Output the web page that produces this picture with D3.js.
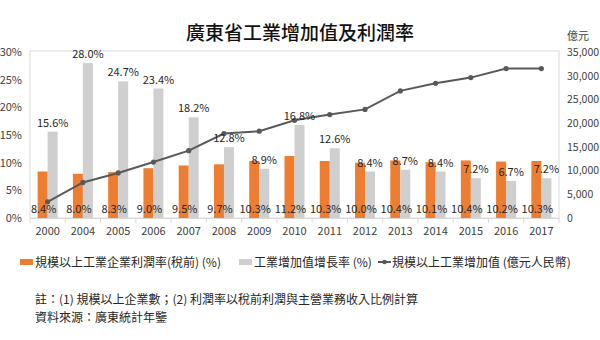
<!DOCTYPE html>
<html>
<head>
<meta charset="utf-8">
<script src="https://cdn.jsdelivr.net/npm/d3@7"></script>
<style>
  html, body { margin: 0; padding: 0; background: #fff; }
  svg { display: block; font-family: "Noto Sans CJK TC", "Noto Sans", sans-serif; }
</style>
</head>
<body>
<svg id="chart" width="600" height="340"></svg>
<script>
// Years on the category axis
const years = ["2000","2004","2005","2006","2007","2008","2009","2010","2011","2012","2013","2014","2015","2016","2017"];
// Pre-tax profit rate of industrial enterprises above designated size (%)
const profitRate = [8.4, 8.0, 8.3, 9.0, 9.5, 9.7, 10.3, 11.2, 10.3, 10.0, 10.4, 10.1, 10.4, 10.2, 10.3];
// Growth rate of industrial value added (%)
const growthRate = [15.6, 28.0, 24.7, 23.4, 18.2, 12.8, 8.9, 16.8, 12.6, 8.4, 8.7, 8.4, 7.2, 6.7, 7.2];
// Industrial value added above designated size (100 million RMB)
const valueAdded = [3400, 7500, 9500, 11800, 14200, 17800, 18300, 20600, 21800, 22900, 26800, 28400, 29600, 31500, 31500];
// Axis ticks
const leftTicks = [0, 5, 10, 15, 20, 25, 30];
const rightTicks = [0, 5000, 10000, 15000, 20000, 25000, 30000, 35000];

const svg = d3.select("#chart");
const plot = { left: 30, right: 559, top: 52, bottom: 218 };
const numFont = "'Noto Sans CJK TC', 'Noto Sans', sans-serif";

const x = d3.scaleBand().domain(years).range([plot.left, plot.right]);
const yL = d3.scaleLinear().domain([0, 30]).range([plot.bottom, plot.top]);
const yR = d3.scaleLinear().domain([0, 35000]).range([plot.bottom, plot.top]);
const barW = 10;

// Title
svg.append("text")
  .attr("x", 300).attr("y", 40)
  .attr("text-anchor", "middle")
  .attr("font-size", 19).attr("font-weight", 500).attr("fill", "#111")
  .text("廣東省工業增加值及利潤率");

// Plot area frame
svg.append("rect")
  .attr("x", plot.left).attr("y", plot.top - 1)
  .attr("width", plot.right - plot.left).attr("height", plot.bottom - plot.top + 1)
  .attr("fill", "none").attr("stroke", "#d9d9d9").attr("stroke-width", 1);

// Left axis (%)
const axL = svg.append("g")
  .attr("transform", `translate(${plot.left},0)`)
  .call(d3.axisLeft(yL).tickValues(leftTicks).tickFormat(d => d + "%").tickSize(0).tickPadding(8));
axL.select(".domain").remove();
axL.selectAll("text").attr("font-size", 11).attr("fill", "#404040").attr("font-family", numFont);

// Right axis (億元)
const axR = svg.append("g")
  .attr("transform", `translate(${plot.right},0)`)
  .call(d3.axisRight(yR).tickValues(rightTicks).tickFormat(d3.format(",")).tickSize(0).tickPadding(8));
axR.select(".domain").remove();
axR.selectAll("text").attr("font-size", 10.5).attr("fill", "#404040").attr("font-family", numFont);

svg.append("text")
  .attr("x", 578).attr("y", 40)
  .attr("text-anchor", "middle")
  .attr("font-size", 11).attr("fill", "#404040")
  .text("億元");

// Bottom axis
const axB = svg.append("g")
  .attr("transform", `translate(0,${plot.bottom})`)
  .call(d3.axisBottom(x).tickSize(0).tickPadding(9));
axB.select(".domain").attr("stroke", "#d9d9d9");
axB.selectAll("text").attr("font-size", 11).attr("fill", "#404040").attr("font-family", numFont);
// Tick marks at category boundaries
axB.selectAll("line.sep")
  .data(d3.range(years.length + 1))
  .join("line")
  .attr("class", "sep")
  .attr("x1", i => plot.left + i * x.step()).attr("x2", i => plot.left + i * x.step())
  .attr("y1", 0).attr("y2", 5)
  .attr("stroke", "#d9d9d9");

// Profit rate bars
svg.append("g").selectAll("rect")
  .data(profitRate)
  .join("rect")
  .attr("x", (d, i) => x(years[i]) + x.bandwidth() / 2 - barW)
  .attr("y", d => yL(d))
  .attr("width", barW)
  .attr("height", d => plot.bottom - yL(d))
  .attr("fill", "#ed7d31");

// Growth rate bars
svg.append("g").selectAll("rect")
  .data(growthRate)
  .join("rect")
  .attr("x", (d, i) => x(years[i]) + x.bandwidth() / 2)
  .attr("y", d => yL(d))
  .attr("width", barW)
  .attr("height", d => plot.bottom - yL(d))
  .attr("fill", "#cfcfcf");

// Value added line
const line = d3.line()
  .x((d, i) => x(years[i]) + x.bandwidth() / 2)
  .y(d => yR(d));
svg.append("path")
  .datum(valueAdded)
  .attr("d", line)
  .attr("fill", "none").attr("stroke", "#595959").attr("stroke-width", 2);
svg.append("g").selectAll("circle")
  .data(valueAdded)
  .join("circle")
  .attr("cx", (d, i) => x(years[i]) + x.bandwidth() / 2)
  .attr("cy", d => yR(d))
  .attr("r", 2.6)
  .attr("fill", "#595959");

// Growth rate labels above bars
svg.append("g").selectAll("text")
  .data(growthRate)
  .join("text")
  .attr("x", (d, i) => x(years[i]) + x.bandwidth() / 2 + barW / 2)
  .attr("y", d => yL(d) - 5)
  .attr("text-anchor", "middle")
  .attr("font-size", 11).attr("fill", "#262626").attr("font-family", numFont)
  .text(d => d.toFixed(1) + "%");

// Profit rate labels at bar base
svg.append("g").selectAll("text")
  .data(profitRate)
  .join("text")
  .attr("x", (d, i) => x(years[i]) + x.bandwidth() / 2 - barW / 2 + 1)
  .attr("y", plot.bottom - 5)
  .attr("text-anchor", "middle")
  .attr("font-size", 11).attr("fill", "#262626").attr("font-family", numFont)
  .text(d => d.toFixed(1) + "%");

// Legend
const lg = svg.append("g").attr("font-size", 12).attr("fill", "#262626");
lg.append("rect").attr("x", 20).attr("y", 259).attr("width", 13).attr("height", 6).attr("fill", "#ed7d31");
lg.append("text").attr("x", 35).attr("y", 267).text("規模以上工業企業利潤率(稅前) (%)");
lg.append("rect").attr("x", 239).attr("y", 259).attr("width", 13).attr("height", 6).attr("fill", "#cfcfcf");
lg.append("text").attr("x", 254).attr("y", 267).text("工業增加值增長率 (%)");
lg.append("line").attr("x1", 378).attr("x2", 391).attr("y1", 262).attr("y2", 262).attr("stroke", "#595959").attr("stroke-width", 2);
lg.append("circle").attr("cx", 384.5).attr("cy", 262).attr("r", 2.3).attr("fill", "#595959");
lg.append("text").attr("x", 392).attr("y", 267).text("規模以上工業增加值 (億元人民幣)");

// Notes
const notes = svg.append("g").attr("font-size", 12).attr("fill", "#262626");
notes.append("text").attr("x", 35).attr("y", 304).text("註：(1) 規模以上企業數；(2) 利潤率以稅前利潤與主營業務收入比例計算");
notes.append("text").attr("x", 35).attr("y", 322).text("資料來源：廣東統計年鑒");
</script>
</body>
</html>
